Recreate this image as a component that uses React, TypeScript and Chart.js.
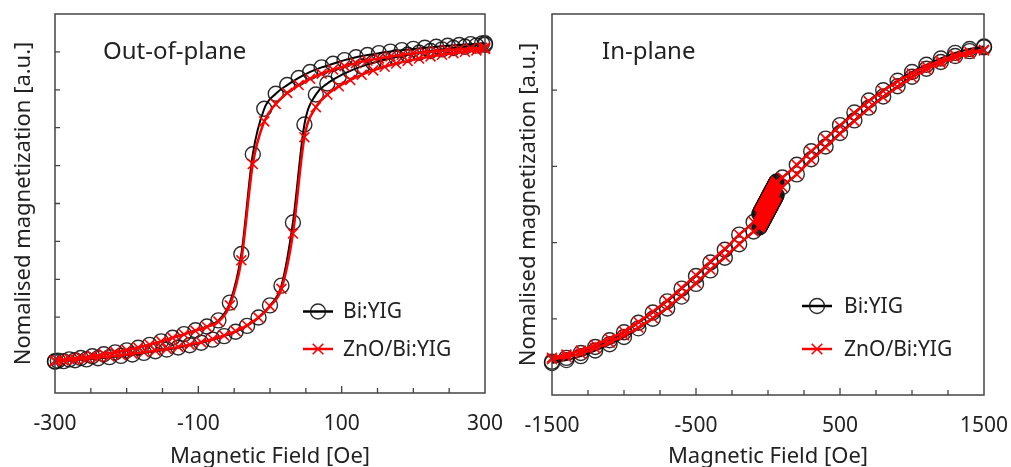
import { useEffect, useRef } from "react";
import { Chart, registerables } from "chart.js";

Chart.register(...registerables);

const FONT = "'Noto Sans', 'Open Sans', sans-serif";
const TEXT = "#222";
const FRAME = "#444";

// ---------- Out-of-plane (left panel) ----------
const H_OOP_DOWN = [-300, -296, -280, -264, -248, -232, -216, -200, -184, -168, -152, -136, -120, -104, -88, -72, -56, -40, -24, -8, 8, 24, 40, 56, 72, 88, 104, 120, 136, 152, 168, 184, 200, 216, 232, 248, 264, 280, 296, 300];
const H_OOP_UP = [-300, -288, -272, -256, -240, -224, -208, -192, -176, -160, -144, -128, -112, -96, -80, -64, -48, -32, -16, 0, 16, 32, 48, 64, 80, 96, 112, 128, 144, 160, 176, 192, 208, 224, 240, 256, 272, 288, 300];

const OOP_BIYIG_DOWN = [-0.998, -0.995, -0.987, -0.978, -0.967, -0.955, -0.943, -0.93, -0.913, -0.895, -0.873, -0.85, -0.827, -0.803, -0.779, -0.74, -0.628, -0.32, 0.312, 0.6, 0.695, 0.75, 0.795, 0.833, 0.862, 0.885, 0.908, 0.926, 0.94, 0.952, 0.962, 0.971, 0.979, 0.986, 0.993, 0.999, 1.004, 1.009, 1.014, 1.015];
const OOP_BIYIG_UP = [-1.002, -0.998, -0.993, -0.987, -0.98, -0.973, -0.965, -0.956, -0.946, -0.936, -0.925, -0.912, -0.898, -0.882, -0.862, -0.84, -0.812, -0.775, -0.722, -0.645, -0.52, -0.12, 0.5, 0.69, 0.76, 0.805, 0.84, 0.868, 0.891, 0.91, 0.927, 0.942, 0.955, 0.966, 0.976, 0.985, 0.993, 1.0, 1.005];
const OOP_ZNO_DOWN = [-0.995, -0.992, -0.984, -0.975, -0.965, -0.953, -0.941, -0.928, -0.912, -0.894, -0.873, -0.851, -0.829, -0.806, -0.782, -0.748, -0.645, -0.36, 0.25, 0.52, 0.63, 0.7, 0.75, 0.79, 0.822, 0.848, 0.87, 0.889, 0.905, 0.919, 0.931, 0.942, 0.951, 0.959, 0.966, 0.972, 0.977, 0.982, 0.986, 0.987];
const OOP_ZNO_UP = [-0.998, -0.994, -0.989, -0.983, -0.976, -0.969, -0.961, -0.952, -0.942, -0.932, -0.921, -0.908, -0.894, -0.878, -0.858, -0.836, -0.808, -0.772, -0.722, -0.65, -0.54, -0.19, 0.42, 0.61, 0.69, 0.742, 0.782, 0.815, 0.843, 0.866, 0.886, 0.903, 0.918, 0.931, 0.942, 0.952, 0.961, 0.969, 0.978];

const OOP_X_LABELS = [-300, -100, 100, 300];
const OOP_Y_TICKS = [-0.96, -0.72, -0.48, -0.24, 0, 0.24, 0.48, 0.72, 0.96];

// ---------- In-plane (right panel) ----------
const H_IP_NEG = [-1500, -1400, -1300, -1200, -1100, -1000, -900, -800, -700, -600, -500, -400, -300, -200, -100];
const H_IP_CENTER = [-60, -57, -54, -51, -48, -45, -42, -39, -36, -33, -30, -27, -24, -21, -18, -15, -12, -9, -6, -3, 0, 3, 6, 9, 12, 15, 18, 21, 24, 27, 30, 33, 36, 39, 42, 45, 48, 51, 54, 57, 60];
const H_IP_POS = [100, 200, 300, 400, 500, 600, 700, 800, 900, 1000, 1100, 1200, 1300, 1400, 1500];

// dense low-field sweep (both samples overlap here)
const IP_CENTER_DOWN = [-0.06, -0.055, -0.05, -0.044, -0.039, -0.034, -0.029, -0.024, -0.019, -0.014, -0.009, -0.003, 0.002, 0.007, 0.012, 0.017, 0.022, 0.027, 0.032, 0.038, 0.043, 0.048, 0.053, 0.058, 0.063, 0.068, 0.073, 0.078, 0.084, 0.089, 0.094, 0.099, 0.104, 0.109, 0.114, 0.119, 0.124, 0.13, 0.135, 0.14, 0.145];
const IP_CENTER_UP = [-0.145, -0.14, -0.135, -0.13, -0.124, -0.119, -0.114, -0.109, -0.104, -0.099, -0.094, -0.089, -0.084, -0.078, -0.073, -0.068, -0.063, -0.058, -0.053, -0.048, -0.043, -0.038, -0.032, -0.027, -0.022, -0.017, -0.012, -0.007, -0.002, 0.003, 0.009, 0.014, 0.019, 0.024, 0.029, 0.034, 0.039, 0.044, 0.05, 0.055, 0.06];

const IP_BIYIG_DOWN_NEG = [-0.99, -0.966, -0.935, -0.898, -0.855, -0.805, -0.745, -0.68, -0.61, -0.53, -0.45, -0.365, -0.285, -0.19, -0.11];
const IP_BIYIG_DOWN_POS = [0.17, 0.25, 0.335, 0.415, 0.5, 0.58, 0.655, 0.72, 0.78, 0.835, 0.88, 0.92, 0.955, 0.98, 0.995];
const IP_BIYIG_UP_NEG = [-0.998, -0.98, -0.955, -0.92, -0.88, -0.835, -0.78, -0.72, -0.655, -0.58, -0.5, -0.415, -0.335, -0.25, -0.17];
const IP_BIYIG_UP_POS = [0.11, 0.19, 0.285, 0.365, 0.45, 0.53, 0.61, 0.68, 0.745, 0.805, 0.855, 0.898, 0.935, 0.966, 0.99];
const IP_ZNO_DOWN_NEG = [-0.965, -0.945, -0.92, -0.885, -0.845, -0.8, -0.74, -0.675, -0.605, -0.525, -0.445, -0.36, -0.28, -0.19, -0.11];
const IP_ZNO_DOWN_POS = [0.17, 0.25, 0.335, 0.415, 0.495, 0.575, 0.65, 0.715, 0.775, 0.825, 0.87, 0.905, 0.94, 0.96, 0.975];
const IP_ZNO_UP_NEG = [-0.975, -0.96, -0.94, -0.905, -0.87, -0.825, -0.775, -0.715, -0.65, -0.575, -0.495, -0.41, -0.33, -0.25, -0.17];
const IP_ZNO_UP_POS = [0.11, 0.19, 0.28, 0.36, 0.445, 0.525, 0.605, 0.675, 0.74, 0.8, 0.85, 0.89, 0.925, 0.95, 0.97];

const H_IP = [...H_IP_NEG, ...H_IP_CENTER, ...H_IP_POS];
const IP_BIYIG_DOWN = [...IP_BIYIG_DOWN_NEG, ...IP_CENTER_DOWN, ...IP_BIYIG_DOWN_POS];
const IP_BIYIG_UP = [...IP_BIYIG_UP_NEG, ...IP_CENTER_UP, ...IP_BIYIG_UP_POS];
const IP_ZNO_DOWN = [...IP_ZNO_DOWN_NEG, ...IP_CENTER_DOWN, ...IP_ZNO_DOWN_POS];
const IP_ZNO_UP = [...IP_ZNO_UP_NEG, ...IP_CENTER_UP, ...IP_ZNO_UP_POS];

const IP_X_LABELS = [-1500, -500, 500, 1500];
const IP_Y_TICKS = [-0.72, -0.24, 0.24, 0.72];

const SERIES_NAMES = ["Bi:YIG", "ZnO/Bi:YIG"];
const Y_TITLE = "Nomalised magnetization [a.u.]";
const X_TITLE = "Magnetic Field [Oe]";

type PanelProps = {
  width: number;
  left: number;
  hDown: number[];
  hUp: number[];
  bDown: number[];
  bUp: number[];
  rDown: number[];
  rUp: number[];
  xMin: number;
  xMax: number;
  xStep: number;
  xLabels: number[];
  yTicks: number[];
  title: string;
  area: { left: number; right: number; top: number; bottom: number };
  labelPos: { x: number; y: number };
  legendPos: { lineX: number; textX: number; y1: number; y2: number };
};

function drawCircle(ctx: CanvasRenderingContext2D, x: number, y: number, r: number) {
  ctx.beginPath();
  ctx.arc(x, y, r, 0, Math.PI * 2);
  ctx.stroke();
}
function drawCrossRot(ctx: CanvasRenderingContext2D, x: number, y: number, r: number) {
  const d = r * Math.SQRT1_2;
  ctx.beginPath();
  ctx.moveTo(x - d, y - d);
  ctx.lineTo(x + d, y + d);
  ctx.moveTo(x + d, y - d);
  ctx.lineTo(x - d, y + d);
  ctx.stroke();
}

function Panel(props: PanelProps) {
  const ref = useRef<HTMLCanvasElement>(null);
  useEffect(() => {
    const p = props;
    const canvas = ref.current;
    if (!canvas) return;
    const mk = (xs: number[], ys: number[]) => xs.map((x, i) => ({ x, y: ys[i] }));
    const black = {
      borderColor: "#000",
      borderWidth: 2,
      pointStyle: "circle",
      pointRadius: 7.5,
      pointBorderWidth: 1.4,
      pointBorderColor: "rgba(20,20,20,0.9)",
      pointBackgroundColor: "rgba(0,0,0,0)",
      cubicInterpolationMode: "monotone",
      clip: false,
      fill: false,
      order: 2,
    };
    const red = {
      borderColor: "#ff0000",
      borderWidth: 2.5,
      pointStyle: "crossRot",
      pointRadius: 7,
      pointBorderWidth: 1.6,
      pointBorderColor: "#ff0000",
      pointBackgroundColor: "#ff0000",
      cubicInterpolationMode: "monotone",
      clip: false,
      fill: false,
      order: 1,
    };

    const decor = {
      id: "decor",
      afterDatasetsDraw(chart: any) {
        const ctx: CanvasRenderingContext2D = chart.ctx;
        const a = chart.chartArea;
        const xs = chart.scales.x;
        const ys = chart.scales.y;
        ctx.save();
        ctx.strokeStyle = FRAME;
        ctx.lineWidth = 1.5;
        ctx.strokeRect(a.left, a.top, a.right - a.left, a.bottom - a.top);
        ctx.lineWidth = 1.3;
        ctx.beginPath();
        for (const t of xs.ticks) {
          const px = xs.getPixelForValue(t.value);
          if (px <= a.left + 1 || px >= a.right - 1) continue;
          const len = p.xLabels.includes(t.value) ? 7 : 5;
          ctx.moveTo(px, a.bottom);
          ctx.lineTo(px, a.bottom - len);
        }
        for (const v of p.yTicks) {
          const py = ys.getPixelForValue(v);
          ctx.moveTo(a.left, py);
          ctx.lineTo(a.left + 5, py);
        }
        ctx.stroke();

        // panel label
        ctx.fillStyle = TEXT;
        ctx.font = `24px ${FONT}`;
        ctx.textBaseline = "alphabetic";
        ctx.textAlign = "left";
        ctx.fillText(p.title, a.left + p.labelPos.x, a.top + p.labelPos.y);

        // legend
        const L = p.legendPos;
        const lx = a.left + L.lineX;
        const y1 = a.top + L.y1;
        const y2 = a.top + L.y2;
        ctx.lineWidth = 2.5;
        ctx.strokeStyle = "#000";
        ctx.beginPath();
        ctx.moveTo(lx, y1);
        ctx.lineTo(lx + 30, y1);
        ctx.stroke();
        ctx.lineWidth = 1.4;
        ctx.strokeStyle = "rgba(20,20,20,0.9)";
        drawCircle(ctx, lx + 15, y1, 7.5);
        ctx.strokeStyle = "#ff0000";
        ctx.lineWidth = 2.5;
        ctx.beginPath();
        ctx.moveTo(lx, y2);
        ctx.lineTo(lx + 30, y2);
        ctx.stroke();
        ctx.lineWidth = 1.6;
        drawCrossRot(ctx, lx + 15, y2, 7.5);
        ctx.fillStyle = TEXT;
        ctx.font = `21px ${FONT}`;
        ctx.textBaseline = "middle";
        ctx.fillText(SERIES_NAMES[0], a.left + L.textX, y1 + 1);
        ctx.fillText(SERIES_NAMES[1], a.left + L.textX, y2 + 1);
        ctx.restore();
      },
    };

    const H = 467;
    const chart = new Chart(canvas, {
      type: "line",
      data: {
        datasets: [
          { label: SERIES_NAMES[0], data: mk(p.hDown, p.bDown), ...black } as any,
          { label: SERIES_NAMES[0], data: mk(p.hUp, p.bUp), ...black } as any,
          { label: SERIES_NAMES[1], data: mk(p.hDown, p.rDown), ...red } as any,
          { label: SERIES_NAMES[1], data: mk(p.hUp, p.rUp), ...red } as any,
        ],
      },
      options: {
        animation: false,
        responsive: false,
        events: [],
        parsing: false as any,
        layout: { padding: { left: 0, right: p.width - p.area.right, top: p.area.top, bottom: 0 } },
        plugins: { legend: { display: false }, tooltip: { enabled: false }, title: { display: false } },
        scales: {
          x: {
            type: "linear",
            min: p.xMin,
            max: p.xMax,
            grid: { display: false, drawTicks: false },
            border: { display: false },
            ticks: {
              stepSize: p.xStep,
              autoSkip: false,
              maxRotation: 0,
              padding: 18,
              color: TEXT,
              font: { family: FONT, size: 21 },
              callback: (v: any) => (p.xLabels.includes(Number(v)) ? String(v) : ""),
            },
            title: {
              display: true,
              text: X_TITLE,
              color: TEXT,
              font: { family: FONT, size: 22 },
              padding: { top: 0, bottom: -3 },
            },
            afterFit: (s: any) => {
              s.height = H - p.area.bottom;
              s.paddingLeft = 0;
              s.paddingRight = 0;
            },
          },
          y: {
            type: "linear",
            min: -1.2,
            max: 1.2,
            grid: { display: false, drawTicks: false },
            border: { display: false },
            ticks: { display: false },
            title: {
              display: true,
              text: Y_TITLE,
              color: TEXT,
              font: { family: FONT, size: 22 },
              padding: { top: 11, bottom: 0 },
            },
            afterBuildTicks: (s: any) => {
              s.ticks = p.yTicks.map((v) => ({ value: v }));
            },
            afterFit: (s: any) => {
              s.width = p.area.left;
              s.paddingTop = 0;
              s.paddingBottom = 0;
            },
          },
        },
      } as any,
      plugins: [decor],
    });
    return () => chart.destroy();
  }, []);
  return (
    <canvas
      ref={ref}
      width={props.width}
      height={467}
      style={{ position: "absolute", left: props.left, top: 0, width: props.width, height: 467 }}
    />
  );
}

export default function App() {
  return (
    <div style={{ position: "fixed", left: 0, top: 0, width: 1011, height: 467, background: "#fff", overflow: "hidden" }}>
      <Panel
        width={505}
        left={0}
        hDown={H_OOP_DOWN}
        hUp={H_OOP_UP}
        bDown={OOP_BIYIG_DOWN}
        bUp={OOP_BIYIG_UP}
        rDown={OOP_ZNO_DOWN}
        rUp={OOP_ZNO_UP}
        xMin={-300}
        xMax={300}
        xStep={50}
        xLabels={OOP_X_LABELS}
        yTicks={OOP_Y_TICKS}
        title="Out-of-plane"
        area={{ left: 55, right: 485, top: 14, bottom: 393 }}
        labelPos={{ x: 48, y: 45 }}
        legendPos={{ lineX: 248, textX: 288, y1: 297.5, y2: 335 }}
      />
      <Panel
        width={506}
        left={505}
        hDown={H_IP}
        hUp={H_IP}
        bDown={IP_BIYIG_DOWN}
        bUp={IP_BIYIG_UP}
        rDown={IP_ZNO_DOWN}
        rUp={IP_ZNO_UP}
        xMin={-1500}
        xMax={1500}
        xStep={250}
        xLabels={IP_X_LABELS}
        yTicks={IP_Y_TICKS}
        title="In-plane"
        area={{ left: 47, right: 479, top: 14, bottom: 395 }}
        labelPos={{ x: 50, y: 45 }}
        legendPos={{ lineX: 250, textX: 292, y1: 292, y2: 335 }}
      />
    </div>
  );
}
